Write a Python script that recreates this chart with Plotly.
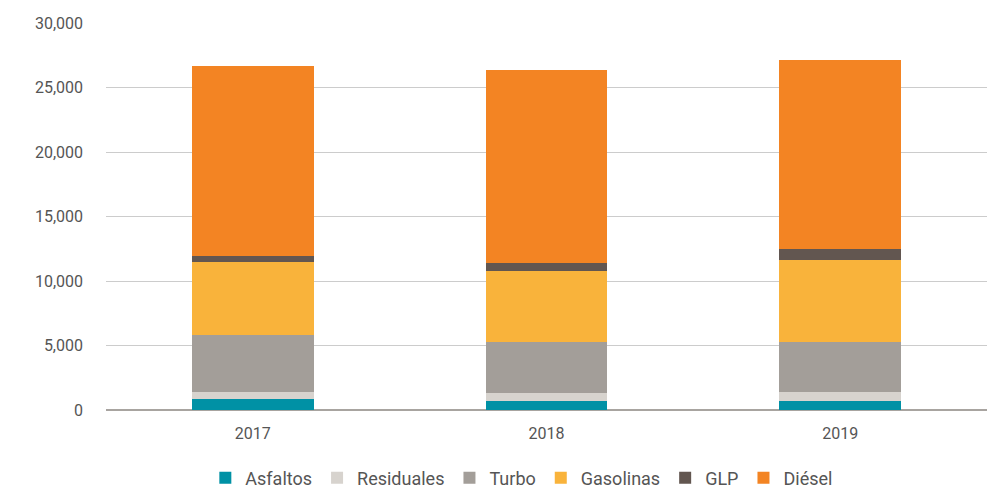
import plotly.graph_objects as go

years = ["2017", "2018", "2019"]
asfaltos = [840, 680, 680]
residuales = [570, 625, 700]
turbo = [4430, 3985, 3910]
gasolinas = [5620, 5470, 6330]
glp = [470, 625, 860]
diesel = [14700, 15000, 14690]

series = [
    ("Asfaltos", asfaltos, "#0091A5"),
    ("Residuales", residuales, "#D7D3CE"),
    ("Turbo", turbo, "#A39E99"),
    ("Gasolinas", gasolinas, "#F9B33B"),
    ("GLP", glp, "#625650"),
    ("Diésel", diesel, "#F38423"),
]

fig = go.Figure()
for name, vals, col in series:
    fig.add_trace(go.Bar(x=years, y=vals, name=name, marker=dict(color=col, line=dict(width=0)),
                         width=0.415))

fig.update_layout(
    barmode="stack",
    width=992, height=493,
    margin=dict(l=106, r=5, t=23, b=83, autoexpand=False),
    plot_bgcolor="white", paper_bgcolor="white",
    font=dict(family="Roboto, sans-serif", color="#555555", size=15),
    bargap=0.585,
    legend=dict(orientation="h", x=0.472, xanchor="center", y=-0.128, yanchor="top",
                font=dict(size=18, color="#555555"), itemwidth=30, traceorder="normal"),
    xaxis=dict(showgrid=False, ticks="", tickfont=dict(size=16, color="#555555"),
               showline=False, automargin=False, ticklabelstandoff=12),
    yaxis=dict(range=[0, 30000], dtick=5000, tickformat=",", gridcolor="#CCCCCC", gridwidth=1.3,
               zeroline=True, zerolinecolor="#A8A4A0", zerolinewidth=1.5, automargin=False,
               ticklabelstandoff=22, tickfont=dict(size=16, color="#555555")),
)

fig.write_html("out.html", config={"displayModeBar": False},
               post_script="document.body.style.margin='0';document.body.style.overflow='hidden';")
